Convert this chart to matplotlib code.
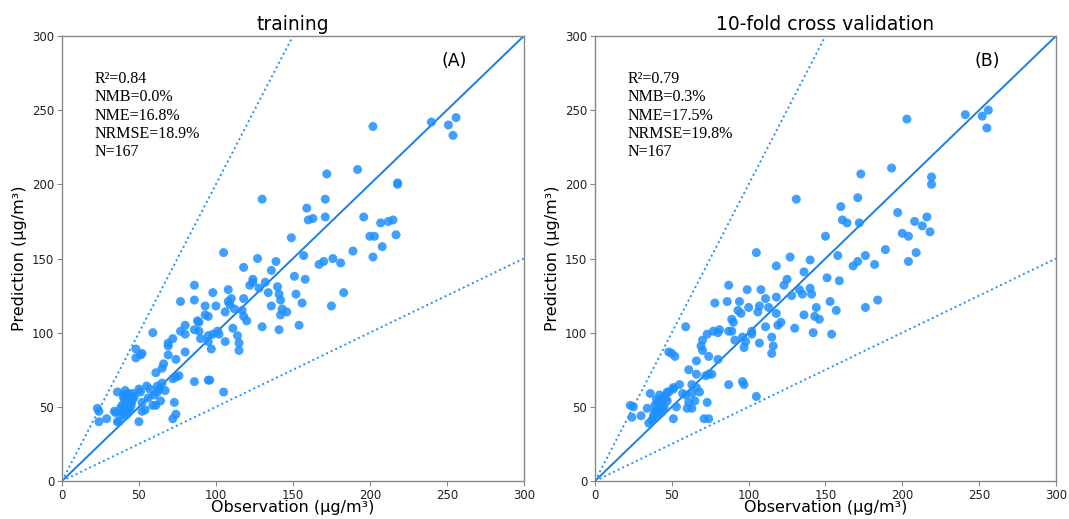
import matplotlib
matplotlib.use("Agg")
import matplotlib.pyplot as plt
import numpy as np

# Panel A (training) observations / predictions
obs_a = [240, 251, 256, 254, 202, 172, 192, 218, 218, 130, 159, 171, 160, 163, 171, 149, 196, 207, 212, 215,
         200, 203, 217, 208, 105, 127, 157, 176, 189, 202, 167, 170, 181,
         118, 139, 136, 132, 124, 124, 122, 128, 151, 158, 86, 98, 108, 110, 118, 108, 109, 112, 106, 117,
         118, 120, 140, 141, 142, 134, 152, 136, 143, 146, 142, 156, 183, 175, 130, 141, 154,
         77, 86, 93, 100, 93, 95, 88, 89, 86, 89, 80, 80, 77, 59, 90, 95, 98, 101, 102, 95, 97, 106, 111,
         114, 115, 115, 72, 69, 69, 80, 69, 74, 48, 48, 51, 52, 66, 61, 65, 72, 74, 76, 86, 95, 96,
         36, 50, 51, 55, 57, 62, 63, 67, 65, 56, 60, 62, 64, 61, 59, 52, 52, 54, 73, 74, 72, 105,
         43, 40, 44, 46, 42, 45, 39, 45, 40, 43, 41, 44, 39, 23, 24, 24, 29, 34, 36, 37, 50,
         41, 44, 38, 42, 46, 40, 43, 35, 47, 41]
pred_a = [242, 240, 245, 233, 239, 207, 210, 201, 200, 190, 184, 190, 176, 177, 178, 164, 178, 174, 175, 176,
          165, 165, 166, 158, 154, 150, 152, 150, 155, 151, 146, 148, 147,
          144, 148, 142, 134, 136, 134, 132, 130, 138, 136, 132, 127, 129, 123, 123, 121, 119, 116, 114, 115,
          111, 108, 131, 126, 122, 127, 126, 118, 116, 114, 112, 120, 127, 118, 104, 102, 105,
          121, 122, 118, 118, 112, 111, 108, 107, 102, 101, 105, 99, 101, 100, 96, 98, 99, 101, 99, 94, 89, 94, 103,
          98, 93, 88, 96, 93, 91, 87, 85, 82, 89, 83, 85, 86, 79, 73, 76, 69, 70, 71, 67, 68, 68,
          60, 62, 60, 64, 62, 64, 62, 61, 66, 56, 58, 60, 54, 51, 51, 53, 47, 48, 53, 45, 42, 60,
          59, 56, 56, 59, 53, 53, 51, 51, 47, 46, 44, 48, 45, 49, 47, 40, 42, 47, 40, 40, 40,
          54, 57, 49, 50, 55, 58, 52, 46, 57, 61]

# Panel B (10-fold cross validation) observations / predictions
obs_b = [241, 252, 256, 255, 203, 173, 193, 219, 219, 131, 160, 171, 161, 164, 172, 150, 197, 208, 213, 216,
         200, 204, 218, 209, 105, 127, 158, 176, 189, 168, 171, 182, 204, 140,
         118, 136, 125, 123, 133, 128, 151, 159, 140, 141, 135, 153, 157, 176, 184, 144, 143, 146, 136,
         130, 142, 154, 118, 111, 108, 99, 87, 86, 94, 78, 100, 107, 113, 106, 93, 95, 118, 121, 119, 111,
         89, 90, 77, 81, 80, 87, 89, 73, 59, 96, 98, 97, 102, 102, 91, 107, 115, 116, 115,
         70, 69, 70, 48, 50, 52, 80, 74, 66, 61, 66, 72, 74, 76, 87, 96, 97, 105,
         36, 51, 51, 55, 57, 63, 63, 66, 68, 61, 60, 63, 65, 59, 53, 51, 73, 71, 74,
         23, 25, 24, 30, 34, 35, 38, 42, 45, 47, 40, 43, 47, 39, 43, 40, 43, 41, 37,
         44, 41, 46, 39, 42, 45, 38, 48]
pred_b = [247, 246, 250, 238, 244, 207, 211, 205, 200, 190, 185, 191, 176, 174, 174, 165, 181, 175, 172, 178,
          167, 165, 168, 154, 154, 151, 152, 152, 156, 145, 148, 146, 148, 149,
          145, 141, 136, 132, 129, 125, 137, 135, 130, 126, 126, 121, 115, 117, 122, 117, 111, 109, 112,
          103, 100, 99, 124, 123, 129, 129, 132, 121, 121, 120, 117, 118, 117, 114, 115, 113, 113, 107, 105, 104,
          109, 107, 101, 102, 100, 101, 101, 99, 104, 97, 94, 90, 101, 99, 95, 93, 97, 91, 86,
          95, 91, 88, 87, 86, 84, 82, 84, 81, 75, 72, 71, 72, 72, 65, 67, 65, 57,
          59, 63, 62, 65, 59, 65, 59, 63, 60, 53, 49, 49, 54, 58, 50, 42, 53, 42, 42,
          51, 50, 43, 44, 49, 39, 42, 58, 57, 60, 55, 54, 54, 51, 50, 47, 46, 45, 41,
          49, 52, 56, 47, 55, 50, 44, 60]

titles = ["training", "10-fold cross validation"]
labels = ["(A)", "(B)"]
stats = ["R²=0.84\nNMB=0.0%\nNME=16.8%\nNRMSE=18.9%\nN=167",
         "R²=0.79\nNMB=0.3%\nNME=17.5%\nNRMSE=19.8%\nN=167"]
ticks = [0, 50, 100, 150, 200, 250, 300]

fig = plt.figure(figsize=(10.69, 5.19), dpi=100)
positions = [[0.058, 0.0732, 0.432, 0.8574], [0.5566, 0.0732, 0.4312, 0.8574]]
color = "#1E90FF"
line_color = "#1A7FE0"
datasets = [(obs_a, pred_a), (obs_b, pred_b)]

for i, (obs, pred) in enumerate(datasets):
    ax = fig.add_axes(positions[i])
    ax.scatter(obs, pred, s=42, color=color, alpha=0.85, edgecolors="none", zorder=3)
    xx = np.array([0, 300])
    ax.plot(xx, xx, color=line_color, lw=1.4, zorder=2)
    ax.plot(xx, 2 * xx, color=color, lw=1.4, ls=(0, (1, 1.6)), zorder=2)
    ax.plot(xx, 0.5 * xx, color=color, lw=1.4, ls=(0, (1, 1.6)), zorder=2)
    ax.set_xlim(0, 300)
    ax.set_ylim(0, 300)
    ax.set_xticks(ticks)
    ax.set_yticks(ticks)
    ax.tick_params(labelsize=8.5, labelcolor="#222222", length=3.5, width=0.8, color="#888888", pad=2)
    for sp in ax.spines.values():
        sp.set_color("#888888")
        sp.set_linewidth(1.0)
    ax.set_title(titles[i], fontsize=13.5, pad=4)
    ax.set_xlabel("Observation (μg/m³)", fontsize=11.5, labelpad=-1)
    ax.set_ylabel("Prediction (μg/m³)", fontsize=11.5, labelpad=4)
    ax.text(0.07, 0.922, stats[i], transform=ax.transAxes, va="top", ha="left",
            fontsize=11.5, family="Liberation Serif", linespacing=1.2)
    ax.text(0.85, 0.963, labels[i], transform=ax.transAxes, va="top", ha="center", fontsize=12.5)

fig.savefig("out.png", dpi=100)
